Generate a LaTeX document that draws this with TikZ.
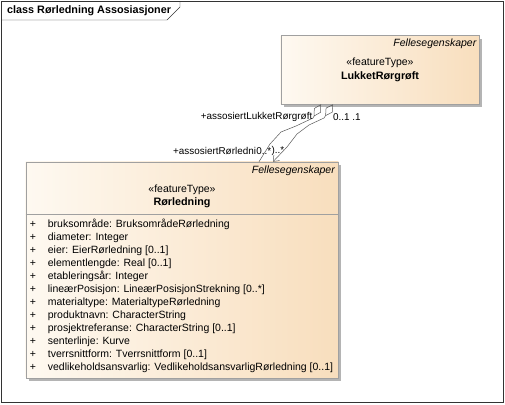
\documentclass[tikz,border=0pt]{standalone}
\usepackage{fontspec}
\setmainfont{Liberation Sans}
\usetikzlibrary{arrows.meta, positioning, shadows}
\definecolor{umlleft}{HTML}{FEF9F1}
\definecolor{umlright}{HTML}{F8DEBD}
\definecolor{umlline}{HTML}{A0A0A0}
\definecolor{umlshadow}{HTML}{B4B4B4}
\definecolor{connline}{HTML}{5A5A5A}

\begin{document}
\begin{tikzpicture}[x=1pt, y=-1pt,
  classbox/.style={draw=umlline, left color=umlleft, right color=umlright,
                   inner sep=0pt,
                   drop shadow={shadow xshift=3pt, shadow yshift=-3pt,
                                fill=umlshadow, opacity=1}},
  txt/.style={font=\fontsize{10.5}{12}\selectfont, inner sep=0pt},
  role/.style={font=\fontsize{9.9}{12}\selectfont, inner sep=0pt},
  bold/.style={txt, font=\fontsize{10.8}{12}\selectfont\bfseries},
  pkg/.style={txt, font=\fontsize{10.5}{12}\selectfont\itshape, anchor=east},
  attr/.style={txt, anchor=west},
  assoc/.style={draw=connline, line width=0.5pt},
  agg/.style={assoc, arrows={Diamond[open, length=14pt, width=8pt]-}},
  nav/.style={assoc, arrows={Diamond[open, length=14pt, width=8pt]-Straight Barb[length=5pt, width=8pt]}}
]
  \useasboundingbox (0,0) rectangle (505,404);

  % Frame
  \draw[black!80] (1.5,1.5) rectangle (503.5,402.5);
  \draw[black!80] (1.5,20) -- (167,20) -- (180,7) -- (180,1.5);
  \node[bold, anchor=west] (title) at (7,11) {class Rørledning Assosiasjoner};

  % Classes
  \node[classbox, minimum width=198.6pt, minimum height=68.6pt] (lukket) at (380,70) {};
  \node[classbox, minimum width=312.6pt, minimum height=216pt] (ror) at (182,269.7) {};
  \draw[umlline] (ror.west |- 0,214.3) -- (ror.east |- 0,214.3);

  % LukketRørgrøft
  \node[pkg] (lukket-pkg) at (476.5,44) {Fellesegenskaper};
  \node[txt] (lukket-st) at (380,63) {«featureType»};
  \node[bold] (lukket-name) at (380,77) {LukketRørgrøft};

  % Rørledning
  \node[pkg] (ror-pkg) at (335,171) {Fellesegenskaper};
  \node[txt] (ror-st) at (182,190) {«featureType»};
  \node[bold] (ror-name) at (182,202.5) {Rørledning};

  \foreach \attrtext [count=\i from 0] in {
      {bruksområde: BruksområdeRørledning},
      {diameter: Integer},
      {eier: EierRørledning [0..1]},
      {elementlengde: Real [0..1]},
      {etableringsår: Integer},
      {lineærPosisjon: LineærPosisjonStrekning [0..*]},
      {materialtype: MaterialtypeRørledning},
      {produktnavn: CharacterString},
      {prosjektreferanse: CharacterString [0..1]},
      {senterlinje: Kurve},
      {tverrsnittform: Tverrsnittform [0..1]},
      {vedlikeholdsansvarlig: VedlikeholdsansvarligRørledning [0..1]}} {
    \node[txt] (plus-\i) at (33,224.5+13.03*\i) {+};
    \node[attr] (attr-\i) at (47.7,224.5+13.03*\i) {\attrtext};
  }

  % Associations
  \coordinate (lk-a) at (321,104.3);
  \coordinate (lk-b) at (333,104.3);
  \coordinate (rr-a) at (259,161.7);
  \coordinate (rr-b) at (273,161.7);
  \draw[agg] (lk-a) -- (313,118) -- (296,126) -- (281,132) -- (270,144) -- (rr-a);
  \draw[nav] (lk-b) -- (324,118) -- (309,125) -- (297,134) -- (287,147) -- (rr-b);

  \node[role, anchor=east] (role-lk) at (312.5,117) {+assosiertLukketRørgrøft};
  \node[role, anchor=west] (mult-lk) at (333,117) {0..1 .1};
  \node[role, anchor=west] (role-rr) at (173,151) {+assosiertRørledni};
  \node[role, anchor=west] (mult-rr) at (role-rr.east) {0..*};
  \node[role, anchor=west] (mult-rr2) at (mult-rr.east) {)..*};
\end{tikzpicture}
\end{document}
